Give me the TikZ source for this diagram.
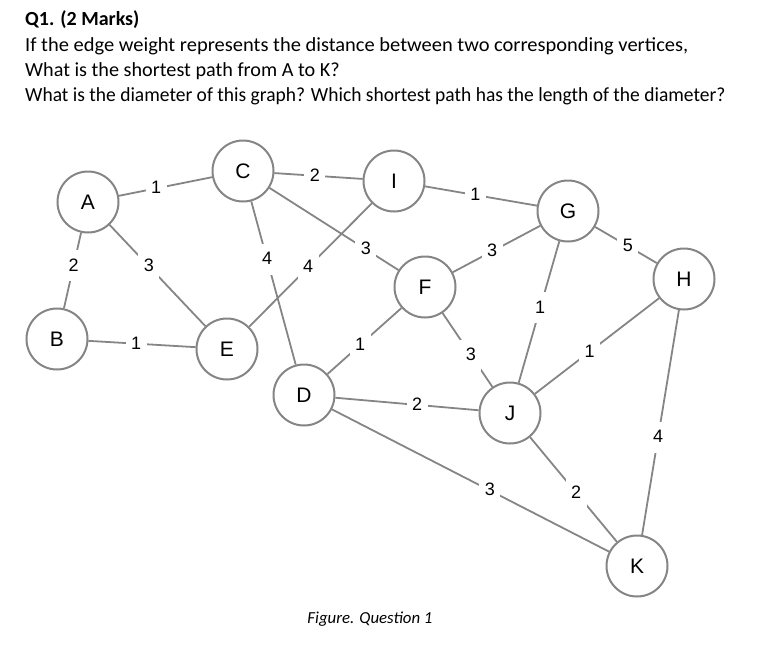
\documentclass[tikz,border=0pt]{standalone}
\usepackage{fontspec}
\setmainfont{Liberation Sans}
\newfontfamily\calibri{Carlito}
\definecolor{edgegray}{HTML}{858585}
\begin{document}
\begin{tikzpicture}[x=1pt,y=-1pt,
  vertex/.style={circle, draw=edgegray, line width=2pt, fill=white, minimum size=61pt, inner sep=0pt, font=\fontsize{21}{21}\selectfont},
  edge/.style={draw=edgegray, line width=1.8pt},
  lbl/.style={fill=white, inner xsep=5.5pt, inner ysep=7pt, text height=14pt, text depth=3pt, font=\fontsize{18}{18}\selectfont},
  qtext/.style={anchor=base west, inner sep=0pt, font=\calibri\fontsize{20}{20}\selectfont}]
\useasboundingbox (0,0) rectangle (763,667);
% title
\node[qtext, font=\calibri\bfseries\fontsize{20}{20}\selectfont] (t1) at (25,25) {Q1. (2 Marks)};
\node[qtext] (t2) at (25,51) {\scalebox{1.024}[1]{If the edge weight represents the distance between two corresponding vertices,}};
\node[qtext] (t3) at (25,76) {\scalebox{1.01}[1]{What is the shortest path from A to K?}};
\node[qtext] (t4) at (25,101) {\scalebox{0.975}[1]{What is the diameter of this graph? Which shortest path has the length of the diameter?}};
% vertices
\node[vertex] (A) at (88,202) {A};
\node[vertex] (B) at (57,339) {B};
\node[vertex] (C) at (243,171) {C};
\node[vertex] (E) at (227,349) {E};
\node[vertex] (I) at (394,181) {I};
\node[vertex] (F) at (425,287) {F};
\node[vertex] (G) at (568,211) {G};
\node[vertex] (H) at (684,279) {H};
\node[vertex] (D) at (304,395) {D};
\node[vertex] (J) at (510,413) {J};
\node[vertex] (K) at (637,566) {K};
% edges
\draw[edge] (A) -- node[lbl, pos=0.40] {1} (C);
\draw[edge] (A) -- node[lbl, pos=0.44] {2} (B);
\draw[edge] (A) -- node[lbl, pos=0.41] {3} (E);
\draw[edge] (B) -- node[lbl, pos=0.445] {1} (E);
\draw[edge] (C) -- node[lbl, pos=0.354] {4} (D);
\draw[edge] (C) -- node[lbl, pos=0.46] {2} (I);
\draw[edge] (C) -- node[lbl, pos=0.747] {3} (F);
\draw[edge] (I) -- node[lbl, pos=0.52] {4} (E);
\draw[edge] (I) -- node[lbl, pos=0.45] {1} (G);
\draw[edge] (F) -- node[lbl, pos=0.45] {3} (G);
\draw[edge] (G) -- node[lbl, pos=0.53] {5} (H);
\draw[edge] (G) -- node[lbl, pos=0.47] {1} (J);
\draw[edge] (J) -- node[lbl, pos=0.44] {1} (H);
\draw[edge] (D) -- node[lbl, pos=0.44] {1} (F);
\draw[edge] (F) -- node[lbl, pos=0.57] {3} (J);
\draw[edge] (D) -- node[lbl, pos=0.57] {2} (J);
\draw[edge] (D) -- node[lbl, pos=0.57] {3} (K);
\draw[edge] (J) -- node[lbl, pos=0.53] {2} (K);
\draw[edge] (H) -- node[lbl, pos=0.566] {4} (K);
% caption
\node[anchor=base, inner sep=0pt, font=\calibri\itshape\fontsize{16.8}{16.8}\selectfont] (cap) at (370,623) {Figure. Question 1};
\end{tikzpicture}
\end{document}
